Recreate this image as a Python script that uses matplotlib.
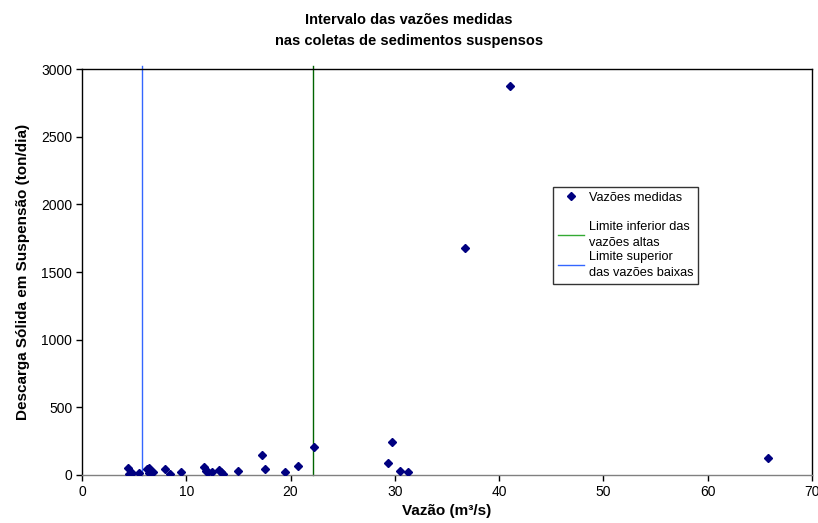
import matplotlib
matplotlib.use('Agg')
import matplotlib.pyplot as plt
from matplotlib.lines import Line2D

plt.rcParams['font.family'] = ['Liberation Sans', 'DejaVu Sans']

# Vazões medidas (m3/s) e descarga sólida em suspensão (ton/dia)
vazao = [4.44, 4.5, 4.76, 5.5, 6.2, 6.4, 6.45, 6.84, 7.96, 8.44, 9.49,
         11.67, 11.85, 12.1, 12.5, 13.1, 13.36, 13.55, 15.0, 17.3, 17.58,
         19.5, 20.7, 22.28, 29.37, 29.72, 30.5, 31.3, 36.7, 41.0, 65.8]
descarga = [54, 5, 12, 17, 44, 49, 12, 20, 44, 10, 20,
            61, 32, 20, 24, 37, 24, 10, 32, 148, 44,
            22, 66, 209, 91, 241, 32, 22, 1678, 2875, 126]

# Limites das vazões (m3/s)
limite_superior_baixas = 5.75
limite_inferior_altas = 22.2
altura_linhas = [0, 3020]

fig = plt.figure(figsize=(8.18, 5.23), dpi=100)
ax = fig.add_axes([0.1002, 0.0918, 0.8925, 0.7762])

ax.plot(vazao, descarga, linestyle='none', marker='D', markersize=3.8,
        color='#000080', zorder=3)
ax.plot([limite_superior_baixas] * 2, altura_linhas, color='#3366ff',
        linewidth=1, clip_on=False)
ax.plot([limite_inferior_altas] * 2, altura_linhas, color='#006400',
        linewidth=1, clip_on=False)

ax.set_xlim(0, 70)
ax.set_ylim(0, 3000)
ax.set_xticks(range(0, 71, 10))
ax.set_yticks(range(0, 3001, 500))
ax.tick_params(direction='out', length=4, width=1, labelsize=10,
               colors='black', pad=3)
for s in ax.spines.values():
    s.set_linewidth(1)
    s.set_color('black')
ax.spines['bottom'].set_color('#808080')

ax.set_xlabel('Vazão (m³/s)', fontsize=11, fontweight='bold', labelpad=4)
ax.set_ylabel('Descarga Sólida em Suspensão (ton/dia)', fontsize=11,
              fontweight='bold', labelpad=8)
fig.text(0.5, 0.975, 'Intervalo das vazões medidas\nnas coletas de sedimentos suspensos',
         ha='center', va='top', fontsize=10.5, fontweight='bold', linespacing=1.6)

handles = [
    Line2D([], [], linestyle='none', marker='D', markersize=3.8, color='#000080'),
    Line2D([], [], linestyle='none'),
    Line2D([], [], color='#33aa33', linewidth=1),
    Line2D([], [], color='#3366ff', linewidth=1),
]
labels = ['Vazões medidas', ' ', 'Limite inferior das\nvazões altas',
          'Limite superior\ndas vazões baixas']
leg = ax.legend(handles, labels, loc='upper left', bbox_to_anchor=(0.645, 0.71),
                fontsize=9.2, frameon=True, fancybox=False, edgecolor='black',
                handlelength=2.0, handletextpad=0.4, labelspacing=0.2,
                borderpad=0.4, borderaxespad=0)
for t in leg.get_texts():
    t.set_linespacing(1.4)
leg.get_frame().set_linewidth(1)

fig.savefig('out.png', dpi=100)
